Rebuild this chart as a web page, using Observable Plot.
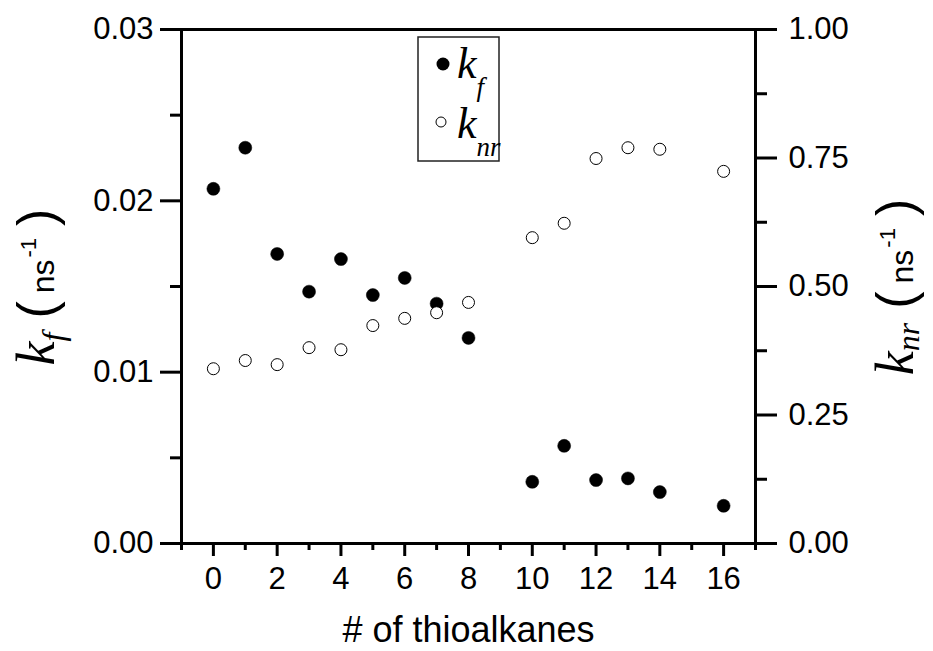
<!DOCTYPE html>
<html><head><meta charset="utf-8">
<script src="https://cdn.jsdelivr.net/npm/d3@7"></script>
<script src="https://cdn.jsdelivr.net/npm/@observablehq/plot@0.6"></script>
<style>body{margin:0;background:#fff}#chart{width:933px;height:651px}</style>
</head><body><div id="chart"></div>
<script>
const thioalkanes = [0, 1, 2, 3, 4, 5, 6, 7, 8, 10, 11, 12, 13, 14, 16];
const kf  = [0.0207, 0.0231, 0.0169, 0.0147, 0.0166, 0.0145, 0.0155, 0.0140, 0.0120, 0.0036, 0.0057, 0.0037, 0.0038, 0.0030, 0.0022];
const knr = [0.340, 0.356, 0.348, 0.381, 0.377, 0.424, 0.438, 0.449, 0.469, 0.595, 0.623, 0.749, 0.770, 0.767, 0.724];
const xMajorTicks = [0, 2, 4, 6, 8, 10, 12, 14, 16];
const xMinorTicks = [-1, 1, 3, 5, 7, 9, 11, 13, 15, 17];
const leftMajorTicks = [0, 0.01, 0.02, 0.03];
const leftMinorTicks = [0.005, 0.015, 0.025];
const rightMajorTicks = [0, 0.25, 0.5, 0.75, 1.0];
const rightMinorTicks = [0.125, 0.375, 0.625, 0.875];
const xLabel = "# of thioalkanes";

const kfMax = 0.03, knrMax = 1.0;
const toLeft = v => v * kfMax / knrMax;
const data = thioalkanes.map((x, i) => ({x, kf: kf[i], knr: knr[i]}));
const sans = "'Liberation Sans', Arial, Helvetica, sans-serif";
const serif = "'Liberation Serif', 'Times New Roman', serif";
const TF = 31;

const plot = Plot.plot({
  width: 933, height: 651,
  marginLeft: 181, marginRight: 178, marginTop: 29, marginBottom: 108,
  x: {domain: [-1, 17]},
  y: {domain: [0, kfMax]},
  style: {fontFamily: sans, fontSize: TF + "px", color: "#000", background: "#fff", overflow: "visible"},
  marks: [
    Plot.axisX({ticks: xMajorTicks, tickSize: 13, tickPadding: 10, strokeWidth: 3, label: null, fontSize: TF, tickFormat: d => String(d)}),
    Plot.axisX({ticks: xMinorTicks, tickSize: 7, strokeWidth: 3, label: null, tickFormat: () => ""}),
    Plot.axisY({ticks: leftMajorTicks, tickSize: 21, tickPadding: 7, strokeWidth: 3, label: null, fontSize: TF, tickFormat: d => d.toFixed(2)}),
    Plot.axisY({ticks: leftMinorTicks, tickSize: 11, strokeWidth: 3, label: null, tickFormat: () => ""}),
    Plot.axisY({anchor: "right", ticks: rightMajorTicks.map(toLeft), tickSize: 21, tickPadding: 12, strokeWidth: 3, label: null, fontSize: TF, tickFormat: d => (d * knrMax / kfMax).toFixed(2)}),
    Plot.axisY({anchor: "right", ticks: rightMinorTicks.map(toLeft), tickSize: 11, strokeWidth: 3, label: null, tickFormat: () => ""}),
    Plot.frame({stroke: "#000", strokeWidth: 3}),
    Plot.text([xLabel], {frameAnchor: "bottom", dy: 98, fontSize: 36, fill: "#000"}),
    Plot.dot(data, {x: "x", y: "kf", r: 6.5, fill: "#000", stroke: "#000", strokeWidth: 0.5}),
    Plot.dot(data, {x: "x", y: d => toLeft(d.knr), r: 6, fill: "#fff", stroke: "#000", strokeWidth: 1})
  ]
});
document.getElementById("chart").appendChild(plot);

const svg = d3.select(plot);
function yLabel(x, y, sub, subDy) {
  const t = svg.append("text")
    .attr("transform", `translate(${x},${y}) rotate(-90)`)
    .attr("text-anchor", "middle").attr("fill", "#000");
  t.append("tspan").attr("font-family", serif).attr("font-style", "italic").attr("font-size", 54).text("k");
  t.append("tspan").attr("font-family", serif).attr("font-style", "italic").attr("font-size", 32).attr("dy", subDy).text(sub);
  t.append("tspan").attr("font-family", sans).attr("font-size", 52).attr("dy", -subDy).attr("dx", 14).text("(");
  t.append("tspan").attr("font-family", sans).attr("font-size", 32).attr("dx", 8).text("ns");
  t.append("tspan").attr("font-family", sans).attr("font-size", 22).attr("dy", -18).attr("dx", 2).text("-1");
  t.append("tspan").attr("font-family", sans).attr("font-size", 52).attr("dy", 18).attr("dx", 12).text(")");
}
yLabel(54, 287, "f", 10);
yLabel(913, 287, "nr", 6);

// legend
const lg = svg.append("g");
lg.append("rect").attr("x", 418).attr("y", 37).attr("width", 81).attr("height", 124)
  .attr("fill", "#fff").attr("stroke", "#222").attr("stroke-width", 1.5);
lg.append("circle").attr("cx", 443).attr("cy", 64).attr("r", 6.5).attr("fill", "#000");
lg.append("circle").attr("cx", 441).attr("cy", 122).attr("r", 5).attr("fill", "#fff").attr("stroke", "#000").attr("stroke-width", 1);
function legText(x, y, sub) {
  const t = lg.append("text").attr("x", x).attr("y", y).attr("fill", "#000")
    .attr("text-anchor", "start").attr("font-family", serif).attr("font-style", "italic");
  t.append("tspan").attr("font-size", 44).text("k");
  t.append("tspan").attr("font-size", 27).attr("dy", 18).text(sub);
}
legText(457, 78, "f");
legText(457, 138, "nr");
</script></body></html>
